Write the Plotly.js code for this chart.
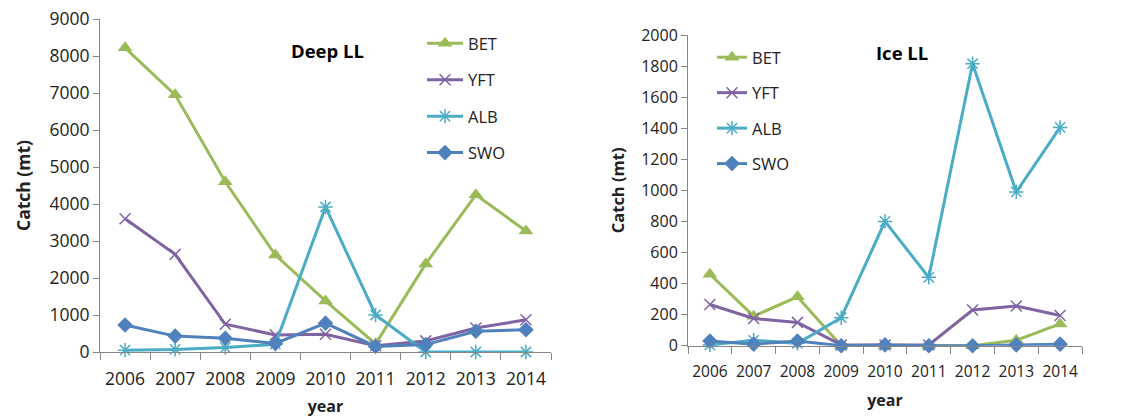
<!DOCTYPE html>
<html>
<head>
<meta charset="utf-8">
<script src="https://cdn.plot.ly/plotly-3.0.1.min.js"></script>
<style>html,body{margin:0;padding:0;background:#fff;}#chart{width:1130px;height:419px;}</style>
</head>
<body>
<div id="chart"></div>
<script>
const years = ['2006','2007','2008','2009','2010','2011','2012','2013','2014'];
const seriesNames = ['BET','YFT','ALB','SWO'];
// Deep LL
const deepBET = [8220, 6950, 4600, 2620, 1380, 220, 2380, 4250, 3270];
const deepYFT = [3600, 2640, 750, 460, 480, 170, 300, 650, 870];
const deepALB = [50, 70, 120, 210, 3920, 1000, 0, 0, 0];
const deepSWO = [730, 430, 370, 230, 780, 150, 200, 560, 600];
// Ice LL
const iceBET = [460, 190, 315, 0, 0, 0, 0, 35, 140];
const iceYFT = [265, 175, 150, 5, 5, 5, 230, 255, 195];
const iceALB = [5, 35, 15, 180, 800, 440, 1815, 990, 1405];
const iceSWO = [30, 10, 30, 0, 5, 0, 0, 5, 10];

const colors = {BET:'#9BBB59', YFT:'#8064A2', ALB:'#4BACC6', SWO:'#4F81BD'};
const markers = {
  BET:{symbol:'triangle-up', size:13, color:colors.BET},
  YFT:{symbol:'x-thin', size:11, color:colors.YFT, line:{color:colors.YFT, width:1.5}},
  ALB:{symbol:'asterisk', size:12, color:colors.ALB, line:{color:colors.ALB, width:1.5}},
  SWO:{symbol:'diamond', size:12, color:colors.SWO}
};
const FONT = 'Open Sans, Noto Sans, sans-serif';

function mk(name, y, xa, ya, leg){
  return {type:'scatter', mode:'lines+markers', name:name, x:years, y:y,
    xaxis:xa, yaxis:ya, legend:leg, legendgroup:leg+name, cliponaxis:false,
    line:{color:colors[name], width:3}, marker:markers[name]};
}
const deep = [deepBET, deepYFT, deepALB, deepSWO];
const ice = [iceBET, iceYFT, iceALB, iceSWO];
const traces = [];
seriesNames.forEach((n,i)=>traces.push(mk(n, deep[i], 'x', 'y', 'legend')));
seriesNames.forEach((n,i)=>traces.push(mk(n, ice[i], 'x2', 'y2', 'legend2')));

const axCommon = {showgrid:false, zeroline:false, showline:true, linecolor:'#868686', linewidth:1,
  ticks:'outside', tickcolor:'#868686', fixedrange:true};
const W=1130, H=419;
const layout = {
  width:W, height:H, margin:{l:0,r:0,t:0,b:0}, paper_bgcolor:'#fff', plot_bgcolor:'#fff',
  font:{family:FONT, color:'#222'}, showlegend:true,
  xaxis:Object.assign({}, axCommon, {domain:[100/W, 551/W], anchor:'y', type:'category',
    range:[-0.5,8.5], tickson:'boundaries', ticklen:7, tickangle:0, tickfont:{size:17.5}, ticklabelstandoff:11,
    title:{text:'<b>year</b>', font:{size:16}, standoff:11}}),
  yaxis:Object.assign({}, axCommon, {domain:[(H-352)/H, (H-19)/H], anchor:'x', range:[0,9000],
    dtick:1000, ticklen:6, tickfont:{size:17.5}, title:{text:'<b>Catch (mt)</b>', font:{size:17.5}, standoff:14}}),
  xaxis2:Object.assign({}, axCommon, {domain:[688/W, 1082/W], anchor:'y2', type:'category',
    range:[-0.5,8.5], tickson:'boundaries', ticklen:7, tickangle:0, tickfont:{size:15.5}, ticklabelstandoff:12,
    title:{text:'<b>year</b>', font:{size:16}, standoff:13}}),
  yaxis2:Object.assign({}, axCommon, {domain:[(H-345.7)/H, (H-35)/H], anchor:'x2', range:[0,2000],
    dtick:200, ticklen:6, tickfont:{size:16}, title:{text:'<b>Catch (mt)</b>', font:{size:16.5}, standoff:12}}),
  legend:{x:422/W, y:(H-26)/H, xanchor:'left', yanchor:'top', font:{size:16.5}, tracegroupgap:12,
    bgcolor:'rgba(0,0,0,0)', itemwidth:36},
  legend2:{x:712/W, y:(H-40)/H, xanchor:'left', yanchor:'top', font:{size:16.5}, tracegroupgap:11,
    bgcolor:'rgba(0,0,0,0)', itemwidth:30},
  annotations:[
    {text:'<b>Deep LL</b>', x:327/W, y:(H-50)/H, xref:'paper', yref:'paper', xanchor:'center', yanchor:'middle', showarrow:false, font:{size:18.5, color:'#000'}},
    {text:'<b>Ice LL</b>', x:902/W, y:(H-53)/H, xref:'paper', yref:'paper', xanchor:'center', yanchor:'middle', showarrow:false, font:{size:18.5, color:'#000'}}
  ]
};
Plotly.newPlot('chart', traces, layout, {displayModeBar:false, staticPlot:true});
</script>
</body>
</html>
